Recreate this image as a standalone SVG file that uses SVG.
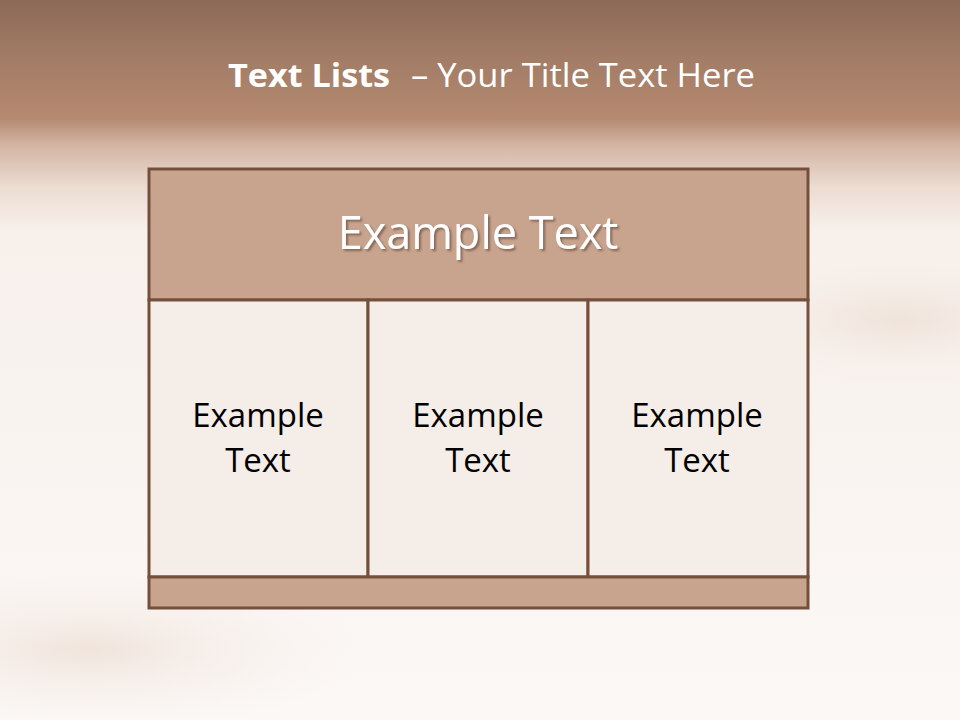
<svg xmlns="http://www.w3.org/2000/svg" width="960" height="720" viewBox="0 0 960 720">
<defs>
<linearGradient id="bg" x1="0" y1="0" x2="0" y2="1">
<stop offset="0" stop-color="#8c6a57"/>
<stop offset="0.08" stop-color="#a27c66"/>
<stop offset="0.165" stop-color="#b58a70"/>
<stop offset="0.2" stop-color="#d2b3a2"/>
<stop offset="0.26" stop-color="#ecdcd2"/>
<stop offset="0.32" stop-color="#f7f0eb"/>
<stop offset="1" stop-color="#fbf8f6"/>
</linearGradient>
<radialGradient id="sw1" cx="0.5" cy="0.5" r="0.5">
<stop offset="0" stop-color="#ecdcd0" stop-opacity="0.7"/>
<stop offset="1" stop-color="#f6eee9" stop-opacity="0"/>
</radialGradient>
<filter id="sh" x="-10%" y="-20%" width="120%" height="140%">
<feDropShadow dx="2" dy="2" stdDeviation="1.2" flood-color="#5a3a2a" flood-opacity="0.6"/>
</filter>
<style>
.hd{fill:#c8a48e;stroke:#74503c;stroke-width:3}
.cell{fill:#f5ede8;stroke:#74503c;stroke-width:3}
.t{font-family:"Open Sans","Noto Sans",sans-serif;}
.ct{font-family:"Open Sans","Noto Sans",sans-serif;font-size:33px;fill:#000;text-anchor:middle}
</style>
</defs>
<rect width="960" height="720" fill="url(#bg)"/>
<ellipse cx="90" cy="650" rx="280" ry="80" fill="url(#sw1)"/>
<ellipse cx="900" cy="320" rx="200" ry="70" fill="url(#sw1)"/>
<text class="t" x="228" y="87" fill="#ffffff" font-size="33" font-weight="bold" textLength="162" lengthAdjust="spacingAndGlyphs">Text Lists</text>
<text class="t" x="411" y="87" fill="#ffffff" font-size="33" textLength="344" lengthAdjust="spacingAndGlyphs">– Your Title Text Here</text>
<g id="header">
<rect class="hd" x="149" y="169" width="659" height="131"/>
<text class="t" x="478" y="249" text-anchor="middle" fill="#ffffff" font-size="45" filter="url(#sh)">Example Text</text>
</g>
<g id="cell1">
<rect class="cell" x="149" y="300" width="219" height="277"/>
<text class="ct" x="258" y="427">Example</text>
<text class="ct" x="258" y="472">Text</text>
</g>
<g id="cell2">
<rect class="cell" x="368" y="300" width="220" height="277"/>
<text class="ct" x="478" y="427">Example</text>
<text class="ct" x="478" y="472">Text</text>
</g>
<g id="cell3">
<rect class="cell" x="588" y="300" width="220" height="277"/>
<text class="ct" x="697" y="427">Example</text>
<text class="ct" x="697" y="472">Text</text>
</g>
<g id="footer">
<rect class="hd" x="149" y="577" width="659" height="31"/>
</g>
<g id="connectors"/>
</svg>
